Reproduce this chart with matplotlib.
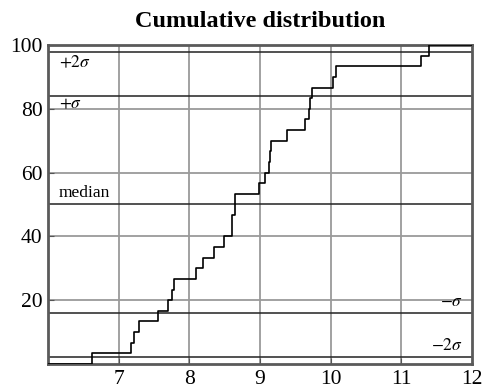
import numpy as np
import matplotlib.pyplot as plt

plt.rcParams['font.family'] = ['Liberation Serif', 'DejaVu Serif']
plt.rcParams['mathtext.fontset'] = 'stix'

# sorted sample values (30 observations)
values = [6.62, 7.18, 7.21, 7.29, 7.55, 7.70, 7.76, 7.78, 8.10, 8.19,
          8.35, 8.49, 8.60, 8.61, 8.64, 8.65, 8.99, 9.07, 9.13, 9.14,
          9.15, 9.38, 9.64, 9.70, 9.71, 9.74, 10.03, 10.08, 11.28, 11.39]

# normal-distribution reference levels (percent)
sigma_levels = [2.3, 15.9, 50.0, 84.1, 97.7]
sigma_labels = [r'$-2\sigma$', r'$-\sigma$', 'median', r'$+\sigma$', r'$+2\sigma$']

xticks = [7, 8, 9, 10, 11, 12]
yticks = [20, 40, 60, 80, 100]

n = len(values)
xs = np.concatenate([[6.0], values, [12.0]])
ys = np.concatenate([[0.0], np.arange(1, n + 1) / n * 100, [100.0]])

fig = plt.figure(figsize=(4.84, 3.91), dpi=100)
ax = fig.add_axes([0.0992, 0.069, 0.876, 0.816])

for x in xticks[:-1]:
    ax.axvline(x, color='#9a9a9a', lw=1.3, zorder=1)
for y in yticks[:-1]:
    ax.axhline(y, color='#9a9a9a', lw=1.3, zorder=1)

for lvl in sigma_levels:
    ax.axhline(lvl, color='#222222', lw=1.1, zorder=2)

ax.step(xs, ys, where='post', color='black', lw=1.2, zorder=3)

ax.text(6.15, 97.0, sigma_labels[4], fontsize=12.5, va='top', ha='left')
ax.text(6.15, 84.0, sigma_labels[3], fontsize=12.5, va='top', ha='left')
ax.text(6.15, 51.0, sigma_labels[2], fontsize=12.5, va='bottom', ha='left')
ax.text(11.87, 16.8, sigma_labels[1], fontsize=12.5, va='bottom', ha='right')
ax.text(11.87, 3.2, sigma_labels[0], fontsize=12.5, va='bottom', ha='right')

ax.set_xlim(6, 12)
ax.set_ylim(0, 100)
ax.set_xticks(xticks)
ax.set_yticks(yticks)
ax.tick_params(direction='in', length=4, labelsize=15.5, color='#555555', pad=4)
for s in ax.spines.values():
    s.set_color('#5a5a5a')
    s.set_linewidth(2)

ax.set_title('Cumulative distribution', fontsize=17.5, fontweight='bold', pad=13)

fig.savefig('out.png', dpi=100)
